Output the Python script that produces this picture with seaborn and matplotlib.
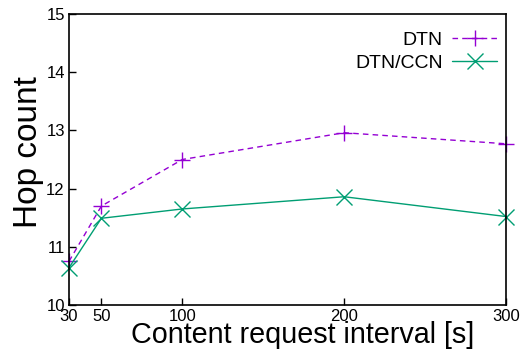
import pandas as pd
import matplotlib
matplotlib.use("Agg")
import matplotlib.pyplot as plt
import seaborn as sns

# values
intervals = [30, 50, 100, 200, 300]
dtn_hops = [10.75, 11.70, 12.50, 12.96, 12.77]
dtn_ccn_hops = [10.64, 11.49, 11.65, 11.86, 11.52]
series_names = ["DTN", "DTN/CCN"]
x_ticks = [30, 50, 100, 200, 300]
y_ticks = [10, 11, 12, 13, 14, 15]

sns.set_style("ticks")
plt.rcParams["font.family"] = ["Liberation Sans", "DejaVu Sans"]
plt.rcParams["text.color"] = "black"
plt.rcParams["axes.labelcolor"] = "black"

data = pd.DataFrame({
    "interval": intervals * 2,
    "hops": dtn_hops + dtn_ccn_hops,
    "series": [series_names[0]] * len(intervals) + [series_names[1]] * len(intervals),
})

styles = {
    "DTN": dict(color="#9400d3", marker="+", markersize=11, linestyle=(0, (4, 3))),
    "DTN/CCN": dict(color="#009e73", marker="x", markersize=11, linestyle="-"),
}

fig = plt.figure(figsize=(5.2, 3.53), dpi=100)
ax = fig.add_axes([69 / 520, 1 - 305 / 353, (506 - 69) / 520, (305 - 14) / 353])

for name in series_names:
    sub = data[data["series"] == name]
    st = styles[name]
    sns.lineplot(
        data=sub, x="interval", y="hops", ax=ax, label=name,
        color=st["color"], marker=st["marker"], markersize=st["markersize"],
        markeredgecolor=st["color"], markeredgewidth=1.0,
        linestyle=st["linestyle"], linewidth=1.0,
        clip_on=False, errorbar=None,
    )

ax.set_xlim(30, 300)
ax.set_ylim(10, 15)
ax.set_xticks(x_ticks)
ax.set_yticks(y_ticks)
ax.tick_params(direction="in", length=5, width=1, labelsize=12, pad=3,
               colors="black", labelcolor="black")
for sp in ax.spines.values():
    sp.set_visible(True)
    sp.set_linewidth(1.2)
    sp.set_color("black")

ax.set_xlabel("Content request interval [s]", fontsize=20.7)
ax.set_ylabel("Hop count", fontsize=24)
ax.xaxis.set_label_coords(0.535, -0.056)
ax.yaxis.set_label_coords(-0.057, 0.527)

# markerfirst=False puts the sample right of the (right-aligned) label, gnuplot style
ax.legend(
    loc="upper right", bbox_to_anchor=(497 / 520, 1 - 31 / 353),
    bbox_transform=fig.transFigure, frameon=False, markerfirst=False,
    fontsize=14, handlelength=2.3, handletextpad=0.5, labelspacing=0.3,
    borderpad=0, borderaxespad=0,
)

fig.savefig("out.png", dpi=100)
